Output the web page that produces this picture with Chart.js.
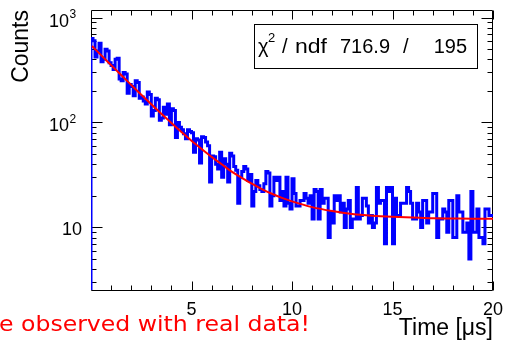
<!DOCTYPE html>
<html><head><meta charset="utf-8">
<script src="https://cdn.jsdelivr.net/npm/chart.js@4.4.0/dist/chart.umd.min.js"></script>
<style>html,body{margin:0;padding:0;background:#fff;overflow:hidden}#wrap{position:relative;width:507px;height:344px}</style>
</head><body><div id="wrap"><canvas id="c" width="507" height="344"></canvas></div>
<script>
// ---- data ----
const binWidth = 0.1;            // µs per bin
const binStart = 0;              // µs, left edge of first bin
const counts = [
  550, 630, 600, 420, 480, 570, 380, 400, 500, 480,
  370, 350, 320, 400, 410, 260, 250, 300, 290, 190,
  230, 220, 180, 250, 240, 170, 175, 160, 150, 195,
  185, 115, 130, 170, 165, 105, 110, 140, 120, 150,
  95, 135, 130, 72, 100, 90, 85, 78, 70, 85,
  82, 80, 52, 70, 68, 41, 73, 72, 65, 60,
  27, 48, 47, 40, 36, 52, 30, 45, 40, 27,
  51, 48, 38, 35, 17, 30, 34, 38, 36, 28,
  32, 16, 22, 28, 25, 23, 22, 26, 34, 33,
  16, 20, 30, 28, 30, 18, 22, 16, 30, 17,
  15, 29, 21, 16, 16, 18, 18, 21, 19, 17,
  20, 12, 23, 22, 12, 23, 17, 19, 19, 8,
  14, 11, 20, 18, 20, 14, 17, 10, 15, 18,
  10, 12, 12, 24, 12, 13, 19, 19, 16, 11,
  13, 10, 11, 24, 17, 18, 18, 7, 24, 22,
  24, 7, 19, 13, 13, 17, 17, 17, 24, 22,
  17, 12, 12, 17, 14, 10, 18, 18, 11, 14,
  14, 21, 21, 8, 12, 12, 15, 14, 9, 18,
  18, 8, 8, 20, 14, 14, 9, 9, 11, 5,
  22, 9, 9, 15, 8, 8, 7, 15, 15, 13
];
const fitTime  = [0.05, 0.5, 1, 1.5, 2, 2.5, 3, 3.5, 4, 4.5, 5, 5.5, 6, 6.5, 7, 7.5, 8, 8.5, 9, 9.5, 10, 11, 12, 13, 14, 15, 16, 17, 18, 19, 20];
const fitValue = [535, 438, 352, 283, 228, 184, 149, 121, 99, 81, 67, 56, 47, 40, 34, 29.7, 26.1, 23.2, 20.9, 19.1, 17.7, 15.6, 14.3, 13.4, 12.9, 12.6, 12.4, 12.2, 12.15, 12.1, 12.06];
const xTickLabels = [5, 10, 15, 20];
const yDecadeExponents = [1, 2, 3];
const xRange = [0, 20];
const yRange = [2.53, 1180];
const xTitle = 'Time [\u03bcs]';
const yTitle = 'Counts';
const chi2Name = '\u03c7';
const chi2Sup = '2';
const chi2Rest = 'ndf';
const chi2Value = '716.9';
const ndfValue = '195';
const noteText = 'e observed with real data!';

// ---- build datasets ----
const histPoints = [{x: binStart, y: 1}];
counts.forEach((c, i) => histPoints.push({x: binStart + i * binWidth, y: c}));
histPoints.push({x: binStart + counts.length * binWidth, y: counts[counts.length - 1]});
const fitPoints = fitTime.map((t, i) => ({x: t, y: fitValue[i]}));

const FONT = '"Liberation Sans", Arial, Helvetica, sans-serif';

const rootFrame = {
  id: 'rootFrame',
  beforeDatasetsDraw(chart) {
    const {ctx, chartArea: a, scales: {x, y}} = chart;
    ctx.save();
    ctx.strokeStyle = '#000';
    ctx.lineWidth = 1;
    const L = a.left + 0.5, R = a.right - 0.5, T = a.top + 0.5, B = a.bottom + 0.5;
    ctx.beginPath();
    ctx.moveTo(L, T); ctx.lineTo(R, T); ctx.lineTo(R, B); ctx.lineTo(L, B); ctx.closePath();
    for (let v = xRange[0] + 1; v <= xRange[1]; v += 1) {
      const px = Math.round(x.getPixelForValue(v)) + 0.5;
      const len = (v % 5 === 0) ? 9 : 5;
      ctx.moveTo(px, B); ctx.lineTo(px, B - len);
      ctx.moveTo(px, T); ctx.lineTo(px, T + len);
    }
    for (let e = 0; e <= 3; e++) {
      for (let m = 1; m <= 9; m++) {
        const v = m * Math.pow(10, e);
        if (v < yRange[0] || v > yRange[1]) continue;
        const py = Math.round(y.getPixelForValue(v)) + 0.5;
        const len = m === 1 ? 11 : 5;
        ctx.moveTo(L, py); ctx.lineTo(L + len, py);
        ctx.moveTo(R, py); ctx.lineTo(R - len, py);
      }
    }
    ctx.stroke();
    ctx.restore();
  },
  afterDraw(chart) {
    const {ctx, chartArea: a, scales: {x, y}} = chart;
    ctx.save();
    ctx.fillStyle = '#000';
    ctx.font = '18px ' + FONT;
    ctx.textAlign = 'center';
    ctx.textBaseline = 'alphabetic';
    xTickLabels.forEach(v => ctx.fillText(String(v), x.getPixelForValue(v), 315));
    yDecadeExponents.forEach(e => {
      const py = y.getPixelForValue(Math.pow(10, e));
      if (e === 1) {
        ctx.font = '18px ' + FONT; ctx.textAlign = 'right';
        ctx.fillText('10', 82, py + 7.5);
      } else {
        ctx.font = '18px ' + FONT; ctx.textAlign = 'right';
        ctx.fillText('10', 69, py + 9);
        ctx.font = '12px ' + FONT; ctx.textAlign = 'left';
        ctx.fillText(String(e), 69.5, py + 0.5);
      }
    });
    ctx.font = '23px ' + FONT;
    ctx.textAlign = 'right';
    ctx.fillText(xTitle, a.right, 335);
    ctx.save();
    ctx.translate(28, a.top);
    ctx.rotate(-Math.PI / 2);
    ctx.textAlign = 'right';
    ctx.fillText(yTitle, 0, 0);
    ctx.restore();
    // stats box
    ctx.fillStyle = '#fff';
    ctx.fillRect(254.5, 24.5, 223, 44);
    ctx.strokeStyle = '#000'; ctx.lineWidth = 1;
    ctx.strokeRect(254.5, 24.5, 223, 44);
    ctx.fillStyle = '#000';
    ctx.textAlign = 'left';
    ctx.font = '20px ' + FONT;
    ctx.fillText(chi2Name, 258, 53);
    ctx.font = '13px ' + FONT;
    ctx.fillText(chi2Sup, 268, 42);
    ctx.font = '20px ' + FONT;
    ctx.fillText('/', 282, 53);
    ctx.save();
    ctx.translate(295, 53);
    ctx.scale(1.15, 1);
    ctx.fillText(chi2Rest, 0, 0);
    ctx.restore();
    ctx.fillText(chi2Value, 340, 53);
    ctx.fillText('/', 403, 53);
    ctx.textAlign = 'right';
    ctx.fillText(ndfValue, 467, 53);
    // red note text
    ctx.fillStyle = '#ff0000';
    ctx.font = '21px "DejaVu Sans", sans-serif';
    ctx.textAlign = 'left';
    const w = ctx.measureText(noteText).width;
    ctx.save();
    ctx.translate(-1, 331);
    ctx.scale(311 / w, 1);
    ctx.fillText(noteText, 0, 0);
    ctx.restore();
    ctx.restore();
  }
};

new Chart(document.getElementById('c').getContext('2d'), {
  type: 'line',
  data: {datasets: [
    {label: 'Fit', data: fitPoints, borderColor: '#ff0000', borderWidth: 2, pointRadius: 0, fill: false, cubicInterpolationMode: 'monotone'},
    {label: 'Counts', data: histPoints, stepped: 'after', borderColor: '#0000ff', borderWidth: 3, pointRadius: 0, fill: false, borderJoinStyle: 'miter'}
  ]},
  options: {
    responsive: false, animation: false, devicePixelRatio: 1,
    layout: {padding: {left: 91, right: 14, top: 10, bottom: 54}},
    plugins: {legend: {display: false}, tooltip: {enabled: false}},
    scales: {
      x: {type: 'linear', min: xRange[0], max: xRange[1], display: false},
      y: {type: 'logarithmic', min: yRange[0], max: yRange[1], display: false}
    }
  },
  plugins: [rootFrame]
});
</script></body></html>
